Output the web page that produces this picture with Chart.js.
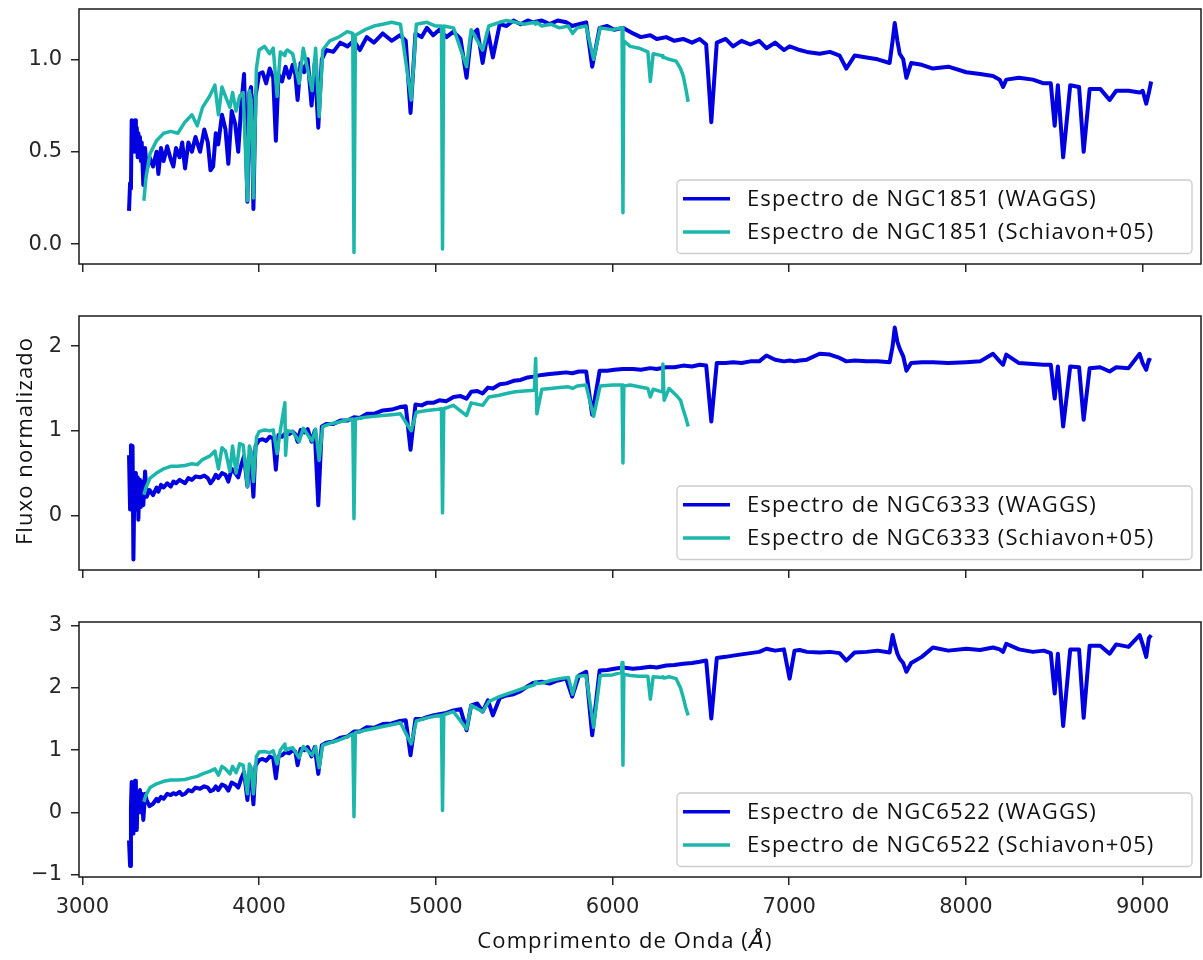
<!DOCTYPE html>
<html>
<head>
<meta charset="utf-8">
<script src="https://cdn.jsdelivr.net/npm/chart.js@4.4.1/dist/chart.umd.min.js"></script>
<style>
  body { margin: 0; background: #fff; }
  canvas { display: block; }
</style>
</head>
<body>
<canvas id="c1851" width="1203" height="290"></canvas>
<canvas id="c6333" width="1203" height="310"></canvas>
<canvas id="c6522" width="1203" height="360"></canvas>
<script>
// wavelength grid (Angstrom) of the WAGGS spectra
var waggsWave = [
  3264, 3270, 3275, 3279, 3284, 3289, 3294, 3298, 3303, 3308, 3313, 3317, 3322, 3326, 3331, 3336, 3345, 3355, 3364,
  3380, 3400, 3420, 3430, 3445, 3460, 3480, 3500, 3515, 3530, 3550, 3565, 3581, 3600, 3620, 3640, 3666, 3690, 3710, 3725,
  3740, 3755, 3769, 3790, 3810, 3826, 3845, 3865, 3882, 3900, 3915, 3934, 3945, 3955, 3968, 3980, 4000,
  4020, 4040, 4060, 4080, 4095, 4110, 4130, 4150, 4170, 4190, 4205, 4218, 4235, 4255, 4275, 4297, 4315, 4335, 4355, 4380,
  4420, 4460, 4500, 4537, 4570, 4609, 4650, 4700, 4750, 4797,
  4830, 4857, 4885, 4920, 4950, 4985, 5020, 5060, 5100, 5140, 5174, 5200, 5235, 5265, 5295, 5323, 5362, 5400, 5440, 5480,
  5520, 5550, 5600, 5644, 5690, 5738, 5772, 5810, 5851, 5885, 5927, 5970, 6010, 6059, 6116, 6160, 6214, 6250, 6304, 6350,
  6400, 6450, 6493, 6530, 6559, 6590, 6640, 6682, 6730, 6780, 6830, 6871, 6920, 6970, 7002, 7030, 7059,
  7100, 7172, 7230, 7285, 7323, 7370, 7437, 7500, 7568, 7585, 7597, 7612, 7625, 7645, 7663, 7690, 7750, 7813, 7900, 8002,
  8080, 8153, 8191, 8210, 8228, 8300, 8379, 8440, 8480, 8502, 8520, 8550, 8590, 8640, 8666, 8700, 8760, 8813, 8850, 8920,
  8983, 9000, 9020, 9035, 9048
];
var waggs1851 = [
  0.18, 0.33, 0.30, 0.67, 0.55, 0.66, 0.50, 0.67, 0.52, 0.63, 0.47, 0.60, 0.50, 0.58, 0.45, 0.55, 0.32, 0.52, 0.40,
  0.47, 0.42, 0.50, 0.38, 0.52, 0.45, 0.53, 0.46, 0.42, 0.52, 0.47, 0.55, 0.41, 0.55, 0.50, 0.58, 0.50, 0.62, 0.55, 0.40,
  0.42, 0.60, 0.54, 0.70, 0.62, 0.435, 0.72, 0.65, 0.50, 0.76, 0.92, 0.23, 0.82, 0.85, 0.19, 0.80, 0.92,
  0.93, 0.87, 0.95, 0.90, 0.56, 0.92, 0.88, 0.96, 0.90, 0.97, 0.92, 0.78, 0.98, 0.93, 1.00, 0.75, 0.98, 0.63, 1.00, 1.05,
  1.04, 1.09, 1.07, 1.10, 1.05, 1.12, 1.09, 1.14, 1.10, 1.13,
  1.10, 0.71, 1.14, 1.12, 1.17, 1.13, 1.16, 1.12, 1.15, 1.11, 0.90, 1.13, 1.16, 0.98, 1.15, 1.01, 1.19, 1.18, 1.21, 1.19,
  1.21, 1.20, 1.21, 1.19, 1.21, 1.20, 1.18, 1.19, 1.20, 0.96, 1.17, 1.18, 1.16, 1.17, 1.14, 1.12, 1.13, 1.11, 1.12, 1.10,
  1.11, 1.09, 1.11, 1.08, 0.66, 1.09, 1.11, 1.07, 1.10, 1.08, 1.10, 1.06, 1.09, 1.05, 1.07, 1.06, 1.05,
  1.04, 1.03, 1.04, 1.02, 0.95, 1.02, 1.01, 1.00, 0.98, 1.10, 1.196, 1.10, 1.03, 1.00, 0.90, 0.98, 0.97, 0.95, 0.96, 0.93,
  0.92, 0.91, 0.89, 0.85, 0.89, 0.90, 0.89, 0.87, 0.87, 0.64, 0.86, 0.47, 0.86, 0.85, 0.50, 0.84, 0.84, 0.78, 0.83, 0.83,
  0.82, 0.83, 0.76, 0.82, 0.88
];
var waggs6333 = [
  0.71, 0.07, 0.83, 0.40, 0.82, -0.52, 0.30, 0.50, 0.15, 0.07, 0.45, -0.05, 0.35, 0.42, 0.10, 0.40, 0.12, 0.52, 0.22,
  0.30, 0.24, 0.33, 0.28, 0.36, 0.33, 0.38, 0.34, 0.40, 0.38, 0.42, 0.40, 0.38, 0.44, 0.42, 0.46, 0.45, 0.47, 0.44, 0.38,
  0.42, 0.48, 0.44, 0.50, 0.48, 0.40, 0.55, 0.50, 0.45, 0.60, 0.70, 0.34, 0.70, 0.62, 0.22, 0.82, 0.89,
  0.90, 0.88, 0.93, 0.91, 0.54, 0.95, 0.93, 0.97, 0.96, 0.99, 0.96, 0.87, 1.01, 0.98, 1.02, 0.87, 1.00, 0.12, 1.05, 1.08,
  1.08, 1.12, 1.12, 1.16, 1.15, 1.20, 1.20, 1.24, 1.25, 1.28,
  1.29, 0.775, 1.31, 1.30, 1.33, 1.33, 1.36, 1.35, 1.40, 1.41, 1.38, 1.46, 1.47, 1.44, 1.51, 1.50, 1.55, 1.56, 1.59, 1.60,
  1.63, 1.64, 1.66, 1.67, 1.68, 1.69, 1.68, 1.70, 1.70, 1.19, 1.71, 1.71, 1.72, 1.73, 1.73, 1.72, 1.74, 1.73, 1.75, 1.75,
  1.77, 1.76, 1.78, 1.77, 1.11, 1.80, 1.80, 1.81, 1.80, 1.82, 1.82, 1.89, 1.84, 1.82, 1.83, 1.82, 1.83,
  1.84, 1.91, 1.90, 1.86, 1.82, 1.83, 1.82, 1.82, 1.81, 2.00, 2.22, 2.05, 1.97, 1.88, 1.71, 1.80, 1.81, 1.81, 1.80, 1.81,
  1.82, 1.91, 1.82, 1.78, 1.90, 1.80, 1.79, 1.78, 1.78, 1.38, 1.76, 1.05, 1.76, 1.75, 1.13, 1.74, 1.75, 1.70, 1.75, 1.74,
  1.91, 1.80, 1.72, 1.84, 1.83
];
var waggs6522 = [
  -0.45, -0.86, 0.09, 0.49, 0.05, -0.34, 0.45, 0.51, 0.10, -0.28, 0.30, 0.20, 0.33, 0.36, 0.00, 0.30, -0.12, 0.30, 0.20,
  0.10, 0.14, 0.22, 0.18, 0.25, 0.22, 0.30, 0.28, 0.31, 0.29, 0.33, 0.28, 0.30, 0.36, 0.34, 0.40, 0.38, 0.42, 0.40, 0.34,
  0.36, 0.42, 0.36, 0.45, 0.42, 0.35, 0.48, 0.45, 0.40, 0.55, 0.65, 0.20, 0.62, 0.58, 0.13, 0.75, 0.84,
  0.86, 0.83, 0.90, 0.87, 0.55, 0.90, 0.92, 0.97, 0.95, 1.00, 0.98, 0.76, 1.02, 1.00, 1.05, 0.90, 1.05, 0.62, 1.08, 1.12,
  1.14, 1.20, 1.22, 1.30, 1.30, 1.37, 1.36, 1.42, 1.43, 1.47,
  1.48, 0.92, 1.50, 1.50, 1.53, 1.56, 1.58, 1.60, 1.64, 1.66, 1.32, 1.72, 1.75, 1.62, 1.80, 1.56, 1.84, 1.88, 1.90, 1.95,
  2.03, 2.08, 2.10, 2.07, 2.12, 2.15, 1.86, 2.20, 2.26, 1.24, 2.28, 2.29, 2.31, 2.33, 2.31, 2.32, 2.34, 2.33, 2.36, 2.37,
  2.39, 2.40, 2.42, 2.44, 1.51, 2.48, 2.50, 2.52, 2.54, 2.56, 2.58, 2.63, 2.60, 2.62, 2.15, 2.60, 2.61,
  2.58, 2.57, 2.58, 2.56, 2.44, 2.57, 2.58, 2.60, 2.57, 2.85, 2.70, 2.55, 2.47, 2.40, 2.26, 2.40, 2.50, 2.65, 2.60, 2.63,
  2.61, 2.65, 2.62, 2.58, 2.71, 2.62, 2.58, 2.60, 2.56, 1.91, 2.55, 1.39, 2.62, 2.62, 1.52, 2.68, 2.68, 2.55, 2.70, 2.66,
  2.85, 2.70, 2.50, 2.80, 2.85
];

// wavelength grid of the Schiavon+05 spectra
var schiavonWave = [
  3348, 3360, 3383, 3420, 3460, 3500, 3540, 3580, 3620, 3650, 3680, 3720, 3750, 3770, 3790, 3810, 3835, 3850, 3870, 3890,
  3910, 3934, 3945, 3955, 3968, 3985, 4000, 4030, 4060, 4080, 4102, 4120, 4146, 4150, 4160, 4190, 4227, 4250, 4300, 4320,
  4340, 4360, 4400, 4450, 4500, 4530, 4537, 4545, 4600, 4650, 4700, 4750, 4800, 4861, 4890, 4950, 5000, 5032, 5038, 5045,
  5100, 5174, 5200, 5265, 5300, 5360, 5400, 5450, 5500, 5558, 5565, 5572, 5600, 5650, 5700, 5750, 5774, 5800, 5850, 5893,
  5930, 6000, 6050, 6054, 6059, 6064, 6100, 6150, 6200, 6214, 6230, 6280, 6285, 6292, 6320, 6360, 6385, 6400, 6415, 6428
];
var schiavon1851 = [
  0.235, 0.36, 0.49, 0.56, 0.60, 0.61, 0.60, 0.66, 0.70, 0.64, 0.74, 0.80, 0.86, 0.70, 0.85, 0.80, 0.74, 0.82, 0.72, 0.80,
  0.82, 0.235, 0.83, 0.78, 0.25, 0.95, 1.05, 1.07, 1.03, 1.06, 0.80, 1.04, 1.02, 1.04, 1.05, 1.03, 0.87, 1.06, 0.83, 1.06,
  0.69, 1.05, 1.10, 1.12, 1.15, 1.14, -0.045, 1.13, 1.16, 1.18, 1.19, 1.20, 1.19, 0.78, 1.19, 1.20, 1.18, 1.18, -0.026, 1.18,
  1.17, 0.96, 1.16, 1.05, 1.18, 1.20, 1.21, 1.20, 1.19, 1.20, 1.19, 1.20, 1.18, 1.19, 1.17, 1.18, 1.14, 1.17, 1.18, 1.00,
  1.17, 1.16, 1.17, 1.17, 0.17, 1.10, 1.07, 1.06, 1.04, 0.88, 1.03, 1.02, 1.01, 1.01, 1.00, 0.99, 0.95, 0.91, 0.84, 0.77
];
var schiavon6333 = [
  0.243, 0.33, 0.44, 0.50, 0.55, 0.58, 0.58, 0.59, 0.61, 0.60, 0.66, 0.70, 0.76, 0.55, 0.80, 0.76, 0.52, 0.82, 0.50, 0.85,
  0.83, 0.34, 0.82, 0.76, 0.40, 0.92, 0.99, 1.01, 1.00, 1.01, 0.73, 1.00, 1.33, 0.71, 1.00, 0.99, 0.87, 1.03, 0.88, 1.02,
  0.65, 1.05, 1.08, 1.10, 1.13, 1.14, -0.04, 1.14, 1.16, 1.17, 1.18, 1.19, 1.20, 1.00, 1.22, 1.24, 1.25, 1.26, 0.03, 1.26,
  1.30, 1.18, 1.33, 1.30, 1.40, 1.42, 1.44, 1.46, 1.47, 1.48, 1.855, 1.20, 1.49, 1.50, 1.51, 1.52, 1.50, 1.53, 1.54, 1.17,
  1.53, 1.54, 1.54, 1.54, 0.62, 1.53, 1.54, 1.52, 1.50, 1.40, 1.49, 1.46, 1.79, 1.36, 1.50, 1.42, 1.36, 1.25, 1.15, 1.05
];
var schiavon6522 = [
  0.17, 0.28, 0.40, 0.46, 0.50, 0.52, 0.52, 0.53, 0.56, 0.58, 0.62, 0.66, 0.70, 0.60, 0.74, 0.70, 0.62, 0.74, 0.64, 0.78,
  0.76, 0.30, 0.78, 0.72, 0.30, 0.90, 0.97, 0.98, 0.96, 0.99, 0.78, 1.00, 1.10, 1.00, 1.02, 1.04, 0.88, 1.06, 0.92, 1.06,
  0.72, 1.08, 1.12, 1.16, 1.22, 1.26, -0.07, 1.28, 1.32, 1.35, 1.38, 1.41, 1.44, 1.10, 1.47, 1.52, 1.55, 1.56, 0.03, 1.57,
  1.62, 1.34, 1.72, 1.62, 1.78, 1.86, 1.90, 1.95, 2.00, 2.05, 2.10, 2.07, 2.08, 2.12, 2.15, 2.17, 1.90, 2.19, 2.20, 1.37,
  2.20, 2.21, 2.25, 2.41, 0.76, 2.22, 2.20, 2.19, 2.19, 1.82, 2.18, 2.17, 2.18, 2.16, 2.18, 2.15, 2.00, 1.85, 1.68, 1.56
];

// axes ticks
var xTicks = [3000, 4000, 5000, 6000, 7000, 8000, 9000];
var yTicks1851 = [0, 0.5, 1.0];
var yLabels1851 = ['0.0', '0.5', '1.0'];
var yTicks6333 = [0, 1, 2];
var yLabels6333 = ['0', '1', '2'];
var yTicks6522 = [-1, 0, 1, 2, 3];
var yLabels6522 = ['\u22121', '0', '1', '2', '3'];

var blue = '#0000e0';
var teal = '#1db6aa';
var ink = '#262626';
var tickFont = { family: 'DejaVu Sans', size: 21 };
var labelFont = '22px "Open Sans"';
var labelSpacing = '1.1px';

function pts(xs, ys) {
  return xs.map(function(x, i) { return { x: x, y: ys[i] }; });
}

// box around the axes, legend in the lower right corner, axis titles
var frameLegend = {
  id: 'frameLegend',
  afterDraw: function(chart, args, opts) {
    var a = chart.chartArea, ctx = chart.ctx;
    ctx.save();
    ctx.strokeStyle = '#1a1a1a';
    ctx.lineWidth = 1.5;
    ctx.strokeRect(a.left, a.top, a.right - a.left, a.bottom - a.top);

    var w = 515, h = 73.5;
    var bx = a.right - 9 - w, by = a.bottom - 10.5 - h;
    ctx.fillStyle = 'rgba(255,255,255,0.8)';
    ctx.strokeStyle = '#cccccc';
    ctx.lineWidth = 1.3;
    ctx.beginPath();
    ctx.roundRect(bx, by, w, h, 4);
    ctx.fill();
    ctx.stroke();
    ctx.font = labelFont;
    ctx.letterSpacing = labelSpacing;
    ctx.textBaseline = 'middle';
    opts.labels.forEach(function(label, i) {
      var y = by + 18.7 + i * 33.3;
      ctx.strokeStyle = opts.colors[i];
      ctx.lineWidth = 3.5;
      ctx.beginPath();
      ctx.moveTo(bx + 6, y);
      ctx.lineTo(bx + 53, y);
      ctx.stroke();
      ctx.fillStyle = '#111';
      ctx.fillText(label, bx + 70, y + 1);
    });

    if (opts.yTitle) {
      ctx.save();
      ctx.translate(31.7, (a.top + a.bottom) / 2 - 2);
      ctx.rotate(-Math.PI / 2);
      ctx.textAlign = 'center';
      ctx.textBaseline = 'alphabetic';
      ctx.fillStyle = '#111';
      ctx.fillText(opts.yTitle, 0, 0);
      ctx.restore();
    }

    if (opts.xTitle) {
      var t = opts.xTitle;
      var italic = 'italic 22px "DejaVu Sans"';
      ctx.font = labelFont;
      var w1 = ctx.measureText(t[0]).width, w3 = ctx.measureText(t[2]).width;
      ctx.font = italic;
      var w2 = ctx.measureText(t[1]).width;
      var x0 = 625 - (w1 + w2 + w3) / 2, yb = 348;
      ctx.fillStyle = '#111';
      ctx.textBaseline = 'alphabetic';
      ctx.font = labelFont;
      ctx.fillText(t[0], x0, yb);
      ctx.font = italic;
      ctx.fillText(t[1], x0 + w1, yb);
      ctx.font = labelFont;
      ctx.fillText(t[2], x0 + w1 + w2, yb);
    }
    ctx.restore();
  }
};

function makeChart(id, p) {
  var datasets = [
    { data: pts(waggsWave, p.waggs), borderColor: blue, borderWidth: 4, pointRadius: 0, tension: 0,
      borderJoinStyle: 'round', order: 2 },
    { data: pts(schiavonWave, p.schiavon), borderColor: teal, borderWidth: 3.5, pointRadius: 0, tension: 0,
      borderJoinStyle: 'round', order: 1 }
  ];
  var tickGrid = { drawOnChartArea: false, drawTicks: true, tickLength: 8, color: ink, lineWidth: 1.5 };
  return new Chart(document.getElementById(id), {
    type: 'line',
    data: { datasets: datasets },
    options: {
      responsive: false,
      animation: false,
      devicePixelRatio: 1,
      events: [],
      layout: { padding: { top: p.top, right: 2, left: 0, bottom: 0 } },
      plugins: {
        legend: { display: false },
        tooltip: { enabled: false },
        frameLegend: { labels: p.labels, colors: [blue, teal], xTitle: p.xTitle, yTitle: p.yTitle }
      },
      scales: {
        x: {
          type: 'linear',
          min: 2981,
          max: 9330,
          afterBuildTicks: function(s) { s.ticks = xTicks.map(function(v) { return { value: v }; }); },
          afterFit: function(s) { s.height = p.xHeight; s.paddingLeft = 0; s.paddingRight = 0; },
          ticks: {
            display: p.showX,
            font: tickFont,
            color: ink,
            padding: 10,
            maxRotation: 0,
            autoSkip: false,
            callback: function(v) { return String(v); }
          },
          grid: tickGrid,
          border: { display: false }
        },
        y: {
          min: p.min,
          max: p.max,
          afterBuildTicks: function(s) { s.ticks = p.yTicks.map(function(v) { return { value: v }; }); },
          afterFit: function(s) { s.width = 79; s.paddingTop = 0; s.paddingBottom = 0; },
          ticks: {
            font: tickFont,
            color: ink,
            padding: 9,
            callback: function(v, i) { return p.yLabels[i]; }
          },
          grid: tickGrid,
          border: { display: false }
        }
      }
    },
    plugins: [frameLegend]
  });
}

makeChart('c1851', {
  waggs: waggs1851, schiavon: schiavon1851,
  min: -0.107, max: 1.272, yTicks: yTicks1851, yLabels: yLabels1851,
  top: 9, xHeight: 26, showX: false,
  labels: ['Espectro de NGC1851 (WAGGS)', 'Espectro de NGC1851 (Schiavon+05)']
});
makeChart('c6333', {
  waggs: waggs6333, schiavon: schiavon6333,
  min: -0.645, max: 2.356, yTicks: yTicks6333, yLabels: yLabels6333,
  top: 26, xHeight: 30, showX: false, yTitle: 'Fluxo normalizado',
  labels: ['Espectro de NGC6333 (WAGGS)', 'Espectro de NGC6333 (Schiavon+05)']
});
makeChart('c6522', {
  waggs: waggs6522, schiavon: schiavon6522,
  min: -1.037, max: 3.06, yTicks: yTicks6522, yLabels: yLabels6522,
  top: 22, xHeight: 83, showX: true,
  labels: ['Espectro de NGC6522 (WAGGS)', 'Espectro de NGC6522 (Schiavon+05)'],
  xTitle: ['Comprimento de Onda (', '\u00c5', ')']
});
</script>
</body>
</html>
